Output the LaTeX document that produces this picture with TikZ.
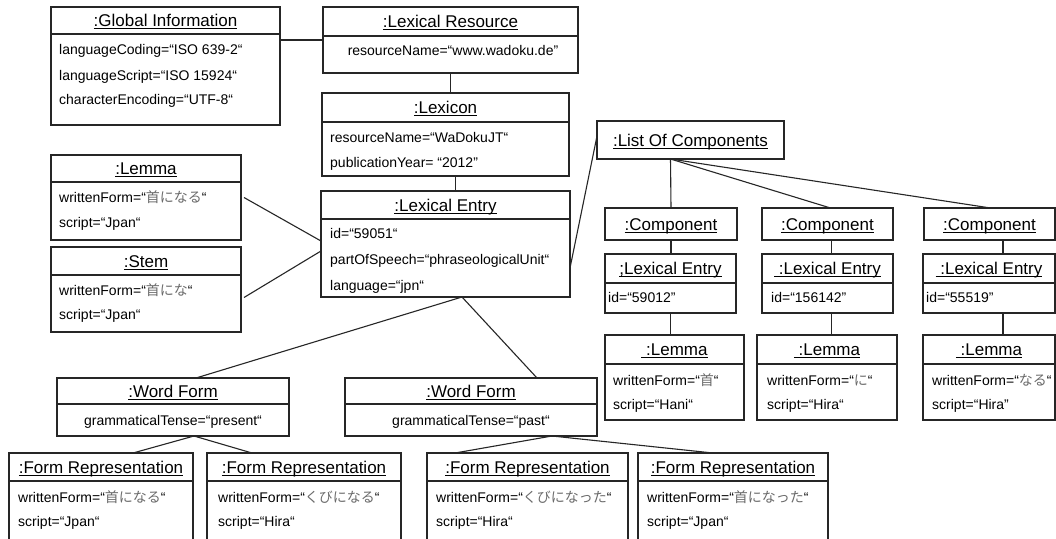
\documentclass[tikz,border=0pt]{standalone}
\usepackage{fontspec}
\setmainfont{Liberation Sans}
\newfontfamily\jpfont{Noto Sans CJK JP}
\definecolor{jpgrey}{gray}{0.42}
\definecolor{linegrey}{gray}{0.15}
% Japanese words are set in a lighter grey CJK face
\newcommand\jp[1]{{\jpfont\color{jpgrey}#1}}
% underline drawn just under the baseline, as in UML object names
\newcommand\hdrul[1]{\setbox0\hbox{#1}\rlap{\rule[-2.4pt]{\wd0}{0.9pt}}\box0}

\tikzset{
  objline/.style={line width=1.1pt, draw=linegrey},
  objframe/.style={objline, rectangle, inner sep=0pt, outer sep=0pt},
  hdrtext/.style={font=\fontsize{17}{20}\selectfont, inner sep=0pt, anchor=base},
  attrtext/.style={font=\fontsize{14}{17}\selectfont, inner sep=0pt, anchor=base west},
  cattrtext/.style={font=\fontsize{14}{17}\selectfont, inner sep=0pt, anchor=base},
  link/.style={line width=1.1pt, draw=linegrey},
}

% object box with a name compartment and an attribute compartment
% #1 name, #2 x0, #3 y0, #4 x1, #5 y1, #6 divider y, #7 object name
\newcommand\objbox[7]{%
  \node[objframe, anchor=north west, minimum width={#4-#2}, minimum height={#5-#3}] (#1) at (#2,#3) {};
  \draw[objline] (#2,#6) -- (#4,#6);
  \node[hdrtext] (#1-h) at ({(#2+#4)/2},{(#3+#6)/2+6}) {\hdrul{#7}};
}
% object box with the name compartment only
\newcommand\namebox[6]{%
  \node[objframe, anchor=north west, minimum width={#4-#2}, minimum height={#5-#3}] (#1) at (#2,#3) {};
  \node[hdrtext] (#1-h) at ({(#2+#4)/2},{(#3+#5)/2+6}) {\hdrul{#6}};
}
% attribute line: #1 name, #2 x, #3 y (text centre), #4 text
\newcommand\attr[4]{\node[attrtext] (#1) at (#2,{#3+5}) {#4};}
\newcommand\cattr[4]{\node[cattrtext] (#1) at (#2,{#3+5}) {#4};}

\begin{document}
\begin{tikzpicture}[x=1pt, y=-1pt]
\useasboundingbox (0,0) rectangle (1056,538);
\fill[white] (0,0) rectangle (1056,538);
\clip (0,0) rectangle (1056,538);

% ---- resource level
\objbox{gi}{51}{7}{280}{125}{34}{:Global Information}
\attr{gi-a1}{59}{49}{languageCoding=“ISO 639-2“}
\attr{gi-a2}{59}{75}{languageScript=“ISO 15924“}
\attr{gi-a3}{59}{99}{characterEncoding=“UTF-8“}

\objbox{lr}{323}{7}{578}{73}{36}{:Lexical Resource}
\cattr{lr-a1}{453}{50}{resourceName=“www.wadoku.de”}

\objbox{lex}{322}{93}{569}{176}{122}{:Lexicon}
\attr{lex-a1}{330}{137}{resourceName=“WaDokuJT“}
\attr{lex-a2}{330}{162}{publicationYear= “2012"}

% ---- main entry
\objbox{le}{321}{191}{570}{297}{219}{:Lexical Entry}
\attr{le-a1}{330}{233}{id=“59051“}
\attr{le-a2}{330}{259}{partOfSpeech=“phraseologicalUnit“}
\attr{le-a3}{330}{285}{language=“jpn“}

\objbox{lem}{51}{155}{241}{240}{182}{:Lemma}
\attr{lem-a1}{59}{197}{writtenForm=“\jp{首になる}“}
\attr{lem-a2}{59}{222}{script=“Jpan“}

\objbox{stem}{51}{247}{241}{332}{275}{:Stem}
\attr{stem-a1}{59}{290}{writtenForm=“\jp{首にな}“}
\attr{stem-a2}{59}{314}{script=“Jpan“}

% ---- components
\namebox{loc}{597}{121}{784}{159}{:List Of Components}

\namebox{c1}{605}{208}{737}{240}{:Component}
\namebox{c2}{762}{208}{893}{240}{:Component}
\namebox{c3}{924}{208}{1055}{240}{:Component}

\objbox{le1}{605}{254}{736}{313}{283}{;Lexical Entry}
\attr{le1-a1}{608}{297}{id=“59012"}
\objbox{le2}{762}{254}{893}{313}{283}{\ :Lexical Entry}
\attr{le2-a1}{771}{297}{id=“156142"}
\objbox{le3}{923}{254}{1055}{313}{283}{\ :Lexical Entry}
\attr{le3-a1}{926}{297}{id=“55519"}

\objbox{l1}{605}{335}{744}{420}{364}{\ :Lemma}
\attr{l1-a1}{613}{380}{writtenForm=“\jp{首}“}
\attr{l1-a2}{613}{404}{script=“Hani“}
\objbox{l2}{757}{335}{897}{420}{364}{\ :Lemma}
\attr{l2-a1}{767}{380}{writtenForm=“\jp{に}“}
\attr{l2-a2}{767}{404}{script=“Hira“}
\objbox{l3}{923}{335}{1055}{420}{364}{\ :Lemma}
\attr{l3-a1}{932}{380}{writtenForm=“\jp{なる}“}
\attr{l3-a2}{932}{404}{script=“Hira"}

% ---- word forms
\objbox{wf1}{57}{378}{289}{436}{404}{:Word Form}
\cattr{wf1-a1}{173}{420}{grammaticalTense=“present“}
\objbox{wf2}{345}{378}{597}{436}{404}{:Word Form}
\cattr{wf2-a1}{471}{420}{grammaticalTense=“past“}

\objbox{fr1}{9}{453}{193}{560}{481}{:Form Representation}
\attr{fr1-a1}{18}{497}{writtenForm=“\jp{首になる}“}
\attr{fr1-a2}{18}{521}{script=“Jpan“}
\objbox{fr2}{207}{453}{401}{560}{481}{:Form Representation}
\attr{fr2-a1}{218}{497}{writtenForm=“\jp{くびになる}“}
\attr{fr2-a2}{218}{521}{script=“Hira“}
\objbox{fr3}{427}{453}{628}{560}{481}{:Form Representation}
\attr{fr3-a1}{436}{497}{writtenForm=“\jp{くびになった}“}
\attr{fr3-a2}{436}{521}{script=“Hira“}
\objbox{fr4}{638}{453}{828}{560}{481}{:Form Representation}
\attr{fr4-a1}{647}{497}{writtenForm=“\jp{首になった}“}
\attr{fr4-a2}{647}{521}{script=“Jpan“}

% ---- links
\draw[link] (gi.east |- lr.west) -- (lr.west);
\draw[link] (lr.south) -- (lr.south |- lex.north);
\draw[link] ([xshift=10]lex.south) -- ([xshift=10]le.north);
\draw[link] ([xshift=3]lem.east) -- ([yshift=3]le.west);
\draw[link] ([xshift=3,yshift=-8]stem.east) -- ([yshift=-7]le.west);
\draw[link] ([yshift=-24]le.east) -- ([yshift=4]loc.west);

\draw[link] ([xshift=-20]loc.south) -- (c1.north);
\draw[link] ([xshift=-20]loc.south) -- ([xshift=3]c2.north);
\draw[link] ([xshift=-20]loc.south) -- ([xshift=1]c3.north);

\draw[link] (c1.south) -- (c1.south |- le1.north);
\draw[link] ([xshift=4]c2.south) -- ([xshift=4]c2.south |- le2.north);
\draw[link] ([xshift=13.5]c3.south) -- ([xshift=13.5]c3.south |- le3.north);

\draw[link] (le1.south) -- (le1.south |- l1.north);
\draw[link] ([xshift=4]le2.south) -- ([xshift=4]le2.south |- l2.north);
\draw[link] ([xshift=14]le3.south) -- ([xshift=14]le3.south |- l3.north);

\draw[link] ([xshift=16.5]le.south) -- ([xshift=23]wf1.north);
\draw[link] ([xshift=16.5]le.south) -- ([xshift=66]wf2.north);

\draw[link] ([xshift=21]wf1.south) -- ([xshift=32]fr1.north);
\draw[link] ([xshift=21]wf1.south) -- ([xshift=-52]fr2.north);
\draw[link] ([xshift=81]wf2.south) -- ([xshift=-72.5]fr3.north);
\draw[link] ([xshift=81]wf2.south) -- ([xshift=-20]fr4.north);
\end{tikzpicture}
\end{document}
